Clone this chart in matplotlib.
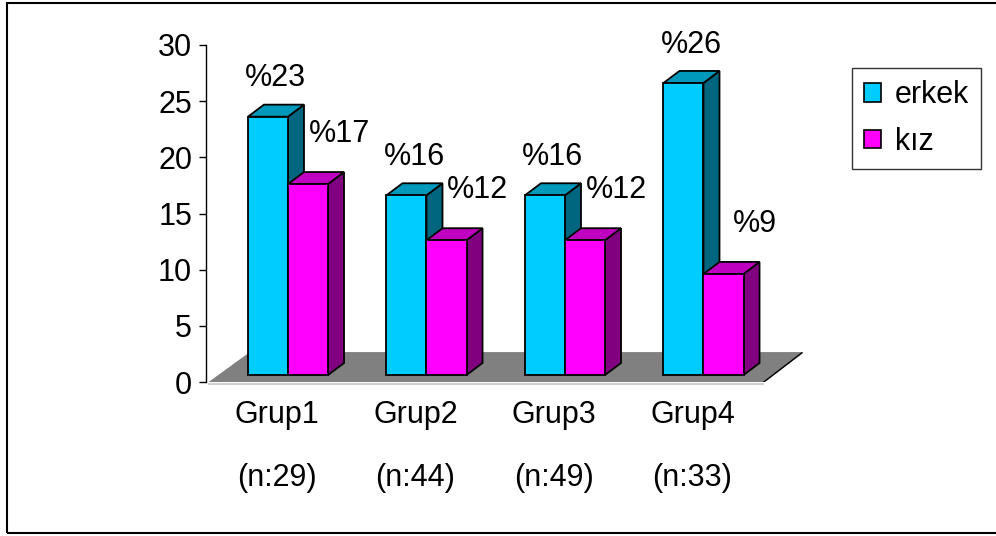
import numpy as np
import matplotlib.pyplot as plt
from matplotlib.patches import Polygon, Patch, Rectangle

plt.rcParams['font.family'] = ['Liberation Sans', 'DejaVu Sans']

# data
groups = ['Grup1', 'Grup2', 'Grup3', 'Grup4']
sizes = ['(n:29)', '(n:44)', '(n:49)', '(n:33)']
erkek = [23, 16, 16, 26]
kiz = [17, 12, 12, 9]
series_names = ['erkek', 'kız']

# colours: front, top, side
cols_erkek = ('#00CCFF', '#0099BB', '#006680')
cols_kiz = ('#FF00FF', '#C000C0', '#800080')

FS = 22

fig = plt.figure(figsize=(9.96, 5.36), dpi=100)
ax = fig.add_axes([206/996, 154/536, 604/996, 337/536])

# fake 3d depth
dx, dy = 0.1155, 1.07
base = 0.62
w = 0.289
off = -0.21

x = np.arange(len(groups))

# floor
floor = Polygon([(-0.491, -0.05), (3.509, -0.05), (3.79, 2.6), (-0.195, 2.6)],
                closed=True, facecolor='#808080', edgecolor='#808080', lw=1, zorder=1)
ax.add_patch(floor)
ax.plot([-0.491, 3.509], [-0.2, -0.2], color='#d0d0d0', lw=1.5, zorder=1, clip_on=False)
ax.plot([3.509, 3.79], [-0.05, 2.6], color='black', lw=1, zorder=1)


def bar3d(x0, h, cols):
    x1 = x0 + w
    y0 = base
    y1 = base + h
    front = [(x0, y0), (x1, y0), (x1, y1), (x0, y1)]
    top = [(x0, y1), (x1, y1), (x1 + dx, y1 + dy), (x0 + dx, y1 + dy)]
    side = [(x1, y0), (x1 + dx, y0 + dy), (x1 + dx, y1 + dy), (x1, y1)]
    for pts, c in ((side, cols[2]), (top, cols[1]), (front, cols[0])):
        ax.add_patch(Polygon(pts, closed=True, facecolor=c, edgecolor='black',
                             lw=1.3, joinstyle='miter', zorder=2))


for i in range(len(groups)):
    bar3d(x[i] + off, erkek[i], cols_erkek)
    bar3d(x[i] + off + w, kiz[i], cols_kiz)
    ax.text(x[i] - 0.01, base + erkek[i] + 3.4, '%' + str(erkek[i]),
            ha='center', va='center', fontsize=FS, zorder=3)
    ax.text(x[i] + 0.45, base + kiz[i] + 4.45, '%' + str(kiz[i]),
            ha='center', va='center', fontsize=FS, zorder=3)

ax.set_xlim(-0.513, 3.848)
ax.set_ylim(0, 30)
ax.set_yticks(range(0, 31, 5))
ax.tick_params(axis='y', labelsize=FS, length=5, width=1, direction='out', pad=5)
ax.set_xticks([])
for s in ['top', 'right', 'bottom']:
    ax.spines[s].set_visible(False)
ax.spines['left'].set_linewidth(1)

# category labels in two rows
for i in range(len(groups)):
    ax.text(x[i], -0.098, groups[i], transform=ax.get_xaxis_transform(),
            ha='center', va='center', fontsize=FS)
    ax.text(x[i], -0.285, sizes[i], transform=ax.get_xaxis_transform(),
            ha='center', va='center', fontsize=FS)

handles = [Patch(facecolor=cols_erkek[0], edgecolor='black', lw=1.2),
           Patch(facecolor=cols_kiz[0], edgecolor='black', lw=1.2)]
leg = fig.legend(handles, series_names, loc='upper left',
                 bbox_to_anchor=(852/996, 1 - 68/536), fontsize=FS,
                 frameon=True, fancybox=False, edgecolor='black',
                 handlelength=0.55, handleheight=0.55, handletextpad=0.45,
                 labelspacing=0.55, borderpad=0.4, borderaxespad=0)
leg.get_frame().set_linewidth(1)

# outer border (open on the right)
fig.patches.append(Rectangle((7/996, 3/536), 1000/996, 530/536, transform=fig.transFigure,
                             fill=False, edgecolor='black', lw=1.5))

fig.savefig('out.png', dpi=100)
